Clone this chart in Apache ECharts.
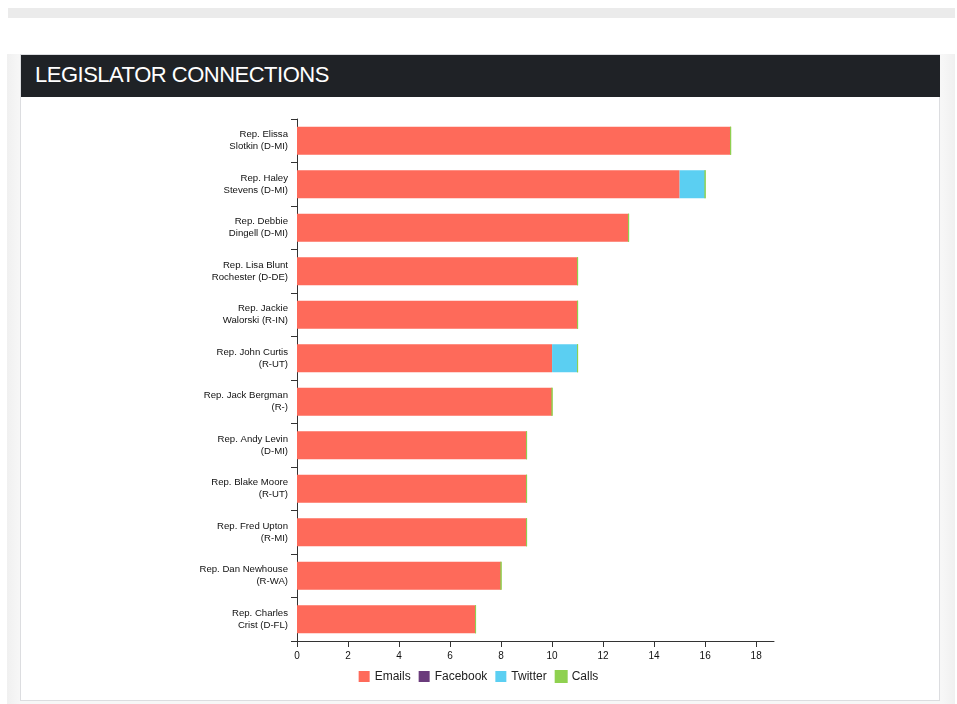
<!DOCTYPE html>
<html>
<head>
<meta charset="utf-8">
<script src="https://cdn.jsdelivr.net/npm/echarts@6/dist/echarts.min.js"></script>
<style>
  html, body { margin: 0; padding: 0; background: #fff; width: 957px; height: 704px; overflow: hidden; }
  #topbar { position: absolute; left: 8px; top: 8px; width: 947px; height: 10px; background: #ebebeb; }
  #panel { position: absolute; left: 7px; top: 54px; width: 948px; height: 650px;
           background: linear-gradient(to right, #f0f0f0 0px, #f7f7f7 13px, #f7f7f7 935px, #f0f0f0 948px); }
  #card { position: absolute; left: 20px; top: 54px; width: 920px; height: 647px; background: #fff;
          border: 1px solid #dcdde0; box-sizing: border-box; }
  #header { position: absolute; left: 21px; top: 55px; width: 919px; height: 42px; background: #1f2226; }
  #title { position: absolute; left: 35px; top: 62px; color: #fff; font-family: "Liberation Sans", Arial, sans-serif;
           font-size: 22px; line-height: 26px; letter-spacing: -0.5px; }
  #chart { position: absolute; left: 0; top: 0; width: 957px; height: 704px; }
</style>
</head>
<body>
<div id="topbar"></div>
<div id="panel"></div>
<div id="card"></div>
<div id="header"></div>
<div id="title">LEGISLATOR CONNECTIONS</div>
<div id="chart"></div>
<script>
const categories = [
  "Rep. Elissa\nSlotkin (D-MI)",
  "Rep. Haley\nStevens (D-MI)",
  "Rep. Debbie\nDingell (D-MI)",
  "Rep. Lisa Blunt\nRochester (D-DE)",
  "Rep. Jackie\nWalorski (R-IN)",
  "Rep. John Curtis\n(R-UT)",
  "Rep. Jack Bergman\n(R-)",
  "Rep. Andy Levin\n(D-MI)",
  "Rep. Blake Moore\n(R-UT)",
  "Rep. Fred Upton\n(R-MI)",
  "Rep. Dan Newhouse\n(R-WA)",
  "Rep. Charles\nCrist (D-FL)"
];
const emails   = [17, 15, 13, 11, 11, 10, 10, 9, 9, 9, 8, 7];
const facebook = [0, 0, 0, 0, 0, 0, 0, 0, 0, 0, 0, 0];
const twitter  = [0, 1, 0, 0, 0, 1, 0, 0, 0, 0, 0, 0];
const calls    = [0, 0, 0, 0, 0, 0, 0, 0, 0, 0, 0, 0];
const xTicks = [0, 2, 4, 6, 8, 10, 12, 14, 16, 18];

const colors = { Emails: '#fe6a5a', Facebook: '#6a3b7c', Twitter: '#5bcff2', Calls: '#8fd150' };
const font = '"Liberation Sans", Arial, sans-serif';

function mk(name, data, extra) {
  return Object.assign({
    name: name, type: 'bar', stack: 'total', data: data, barWidth: 28,
    itemStyle: { color: colors[name] },
    emphasis: { disabled: true }
  }, extra || {});
}

const chart = echarts.init(document.getElementById('chart'), null, { renderer: 'canvas' });
chart.setOption({
  animation: false,
  grid: { left: 297, top: 119, right: 183, bottom: 63, containLabel: false },
  legend: {
    data: ['Emails', 'Facebook', 'Twitter', 'Calls'],
    left: 'center', top: 665, icon: 'rect', itemWidth: 11, itemHeight: 11, itemGap: 8,
    textStyle: { fontFamily: font, fontSize: 12, color: '#222' }
  },
  xAxis: {
    type: 'value', min: 0, max: 18.7, interval: 2,
    splitLine: { show: false },
    axisLine: { show: true, lineStyle: { color: '#333', width: 1 } },
    axisTick: { show: true, length: 6, lineStyle: { color: '#333' } },
    axisLabel: { fontFamily: font, fontSize: 10, color: '#111', margin: 10, showMaxLabel: false,
                 formatter: v => (xTicks.indexOf(v) >= 0 ? String(v) : '') }
  },
  yAxis: {
    type: 'category', data: categories, inverse: true,
    axisLine: { show: true, lineStyle: { color: '#333', width: 1 } },
    axisTick: { show: true, length: 6, lineStyle: { color: '#333' } },
    axisLabel: { fontFamily: font, fontSize: 9.6, color: '#111', margin: 9, lineHeight: 12, align: 'right' }
  },
  series: [
    mk('Emails', emails),
    mk('Facebook', facebook),
    mk('Twitter', twitter),
    mk('Calls', calls, { itemStyle: { color: colors.Calls, borderColor: colors.Calls, borderWidth: 1 } })
  ]
});
</script>
</body>
</html>
